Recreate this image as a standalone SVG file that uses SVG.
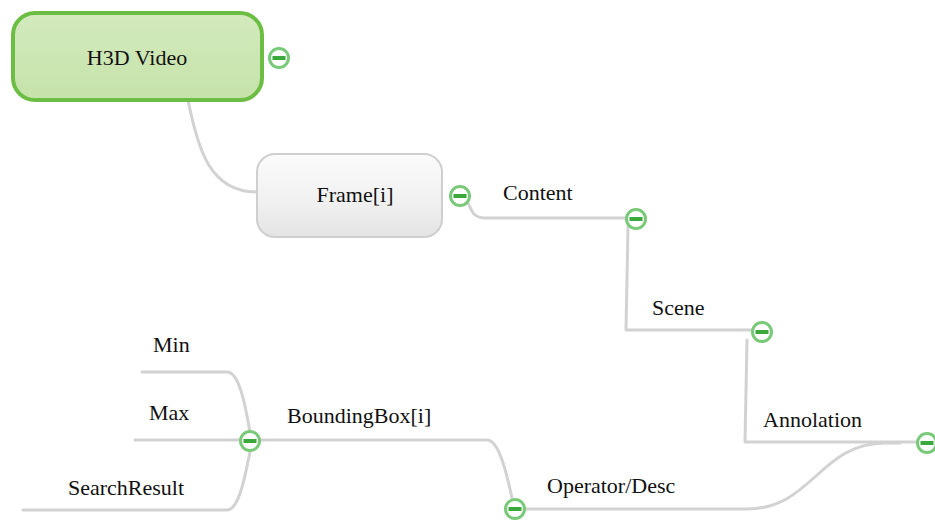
<svg xmlns="http://www.w3.org/2000/svg" width="935" height="527" viewBox="0 0 935 527">
<defs>
<linearGradient id="gFrame" x1="0" y1="0" x2="0" y2="1">
<stop offset="0" stop-color="#fbfbfb"/>
<stop offset="0.6" stop-color="#f0f0f0"/>
<stop offset="1" stop-color="#e4e4e4"/>
</linearGradient>
<linearGradient id="gRoot" x1="0" y1="0" x2="0" y2="1">
<stop offset="0" stop-color="#d3eabd"/>
<stop offset="1" stop-color="#c6e3aa"/>
</linearGradient>
<g id="minus">
<circle cx="0" cy="0" r="9.5" fill="#ffffff" stroke="#78c978" stroke-width="3"/>
<rect x="-6.5" y="-2" width="13" height="4" fill="#3aa83a"/>
</g>
</defs>
<style>
.conn{fill:none;stroke:#d2d2d2;stroke-width:3;stroke-linecap:round;stroke-linejoin:round}
</style>
<rect width="935" height="527" fill="#ffffff"/>
<g id="connectors">
<path class="conn" d="M188 100 C198 150 210 192 257 192"/>
<path class="conn" d="M468 203 C472 212 474 218 485 218 L628 218"/>
<path class="conn" d="M628 226 L626 330 L754 330"/>
<path class="conn" d="M747 340 L745 442 L918 442"/>
<path class="conn" d="M900 443 L885 443 C820 443 812 509 747 509 L524 509"/>
<path class="conn" d="M258 440 L487 440 C500 440 508 480 512 498"/>
<path class="conn" d="M142 372 L227 372 C240 372 246 410 250 432"/>
<path class="conn" d="M135 440 L241 440"/>
<path class="conn" d="M23 510 L227 510 C240 510 246 470 250 452"/>
</g>
<g font-family="'Liberation Serif', 'DejaVu Serif', serif" font-size="22" fill="#111111">
<g id="node-h3d">
<rect x="13" y="13" width="249" height="87" rx="22" fill="url(#gRoot)" stroke="#6cbd44" stroke-width="4"/>
<text x="137" y="65" text-anchor="middle">H3D Video</text>
<use href="#minus" x="279" y="58"/>
</g>
<g id="node-frame">
<rect x="257" y="154" width="185" height="83" rx="18" fill="url(#gFrame)" stroke="#cfcfcf" stroke-width="2"/>
<text x="355" y="202" text-anchor="middle">Frame[i]</text>
<use href="#minus" x="460" y="196"/>
</g>
<g id="node-content">
<text x="503" y="200">Content</text>
<use href="#minus" x="636" y="219"/>
</g>
<g id="node-scene">
<text x="652" y="315">Scene</text>
<use href="#minus" x="762" y="332"/>
</g>
<g id="node-annolation">
<text x="763" y="427">Annolation</text>
<use href="#minus" x="927" y="443"/>
</g>
<g id="node-operator">
<text x="547" y="493">Operator/Desc</text>
<use href="#minus" x="515" y="509"/>
</g>
<g id="node-bbox">
<text x="287" y="423">BoundingBox[i]</text>
<use href="#minus" x="250" y="441"/>
</g>
<g id="node-min">
<text x="153" y="352">Min</text>
</g>
<g id="node-max">
<text x="149" y="420">Max</text>
</g>
<g id="node-searchresult">
<text x="68" y="495">SearchResult</text>
</g>
</g>
</svg>
